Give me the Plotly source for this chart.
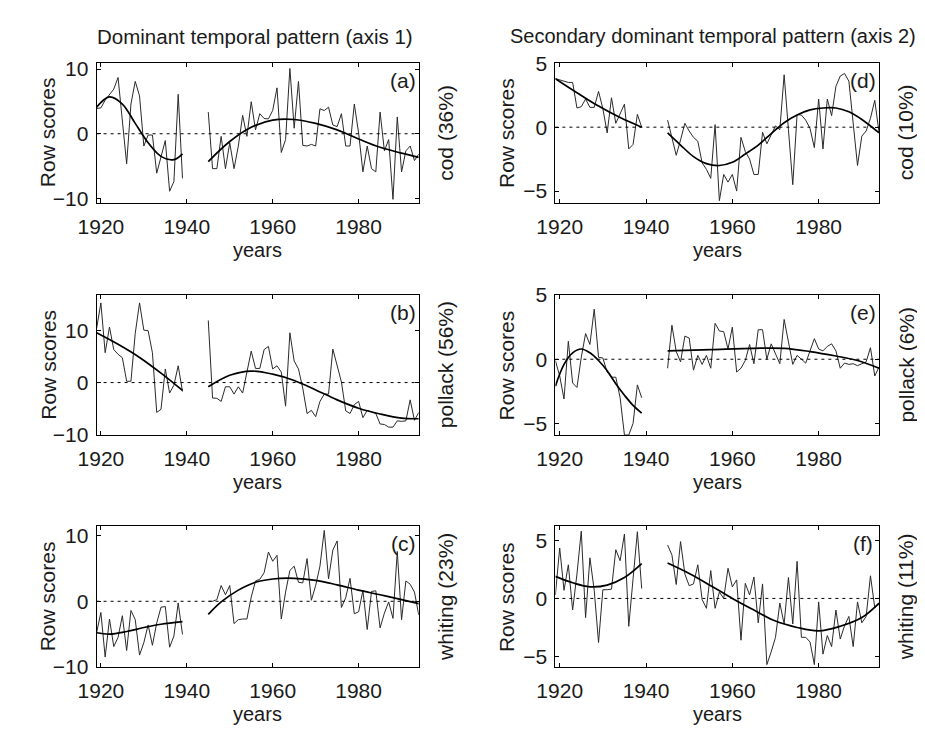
import plotly.graph_objects as go
from plotly.subplots import make_subplots

# ---------------- data ----------------
years_pre = list(range(1919, 1940))    # 1919..1939
years_post = list(range(1945, 1995))   # 1945..1994
x_ticks = [1920, 1940, 1960, 1980]

# axis 1 : cod (a)
cod1_pre = [3.9, 4.0, 5.2, 6.0, 6.9, 8.7, 2.0, -4.65, 4.6, 8.1, 5.85, -1.9, -0.2, -0.2,
            -6.1, -3.6, -1.05, -8.9, -7.4, 6.1, -6.9]
cod1_post = [3.35, -5.4, -5.4, -0.4, -5.4, -1.4, -5.4, -1.9, 2.85, -0.4,
             4.95, 0.6, 3.1, 2.35, 2.3, 3.6, 7.1, -2.9, -0.9, 10.1,
             0.85, 8.1, -1.8, -1.9, -1.65, -1.9, 3.85, 3.6, 4.1, 1.35,
             1.1, 3.1, -1.9, -1.9, 4.6, 0.1, -5.9, -1.9, -5.4, -5.9,
             3.35, -2.65, -0.9, -10.15, 2.6, -5.9, -2.65, -1.9, -4.15, -3.15]
cod1_fit_pre_x = [1919, 1922, 1925, 1928, 1931, 1934, 1937, 1939]
cod1_fit_pre_y = [4.1, 5.7, 4.6, 1.6, -1.4, -3.5, -4.0, -3.1]
cod1_fit_post_x = [1945, 1950, 1955, 1960, 1965, 1970, 1975, 1980, 1985, 1990, 1994]
cod1_fit_post_y = [-4.3, -1.2, 1.0, 2.1, 2.2, 1.6, 0.6, -0.8, -2.1, -3.0, -3.65]

# axis 1 : pollack (b)
pol1_pre = [10.3, 15.2, 5.7, 10.6, 6.3, 5.4, 4.75, 0.25, 0.25, 9.4, 15.2, 10.0, 9.9, 5.7,
            -5.7, -5.1, 2.6, -2.0, -0.5, 3.2, -1.7]
pol1_post = [11.85, -2.95, -3.0, -3.6, -0.8, -0.8, -2.2, -0.8, -2.0, 2.0,
             6.0, 2.7, 2.7, 6.3, 6.9, 2.6, 3.2, 2.0, -4.5, 9.5,
             4.1, 2.6, -1.1, -5.9, -5.3, -6.5, -3.6, -2.2, -2.2, 6.4,
             3.2, 0.1, -5.4, -5.9, -4.2, -3.6, -6.7, -5.3, -5.6, -5.9,
             -7.9, -8.0, -8.5, -8.5, -7.3, -7.4, -7.3, -3.3, -7.2, -5.7]
pol1_fit_pre_x = [1919, 1924, 1929, 1934, 1939]
pol1_fit_pre_y = [9.5, 7.3, 4.8, 1.8, -1.5]
pol1_fit_post_x = [1945, 1950, 1955, 1960, 1965, 1970, 1975, 1980, 1985, 1990, 1994]
pol1_fit_post_y = [-0.8, 1.4, 2.2, 1.6, 0.4, -1.4, -3.3, -4.9, -6.0, -6.8, -6.9]

# axis 1 : whiting (c)
whi1_pre = [-4.8, -1.7, -8.5, -2.7, -6.9, -5.5, -2.2, -7.5, -1.4, -2.8, -8.2, -6.3, -3.6,
            -6.7, -3.3, -0.9, -0.8, -7.0, -5.3, -0.25, -5.05]
whi1_post = [0.0, 0.0, 0.25, 2.4, 1.0, 2.4, -3.4, -2.8, -2.7, -2.7,
             0.65, 3.1, 3.35, 4.35, 7.5, 6.1, 7.0, -2.7, 1.4, 4.7,
             5.35, 2.9, 2.8, 6.5, 0.15, 2.4, 5.35, 10.8, 3.4, 7.8,
             9.2, -0.95, 0.55, 3.5, -1.9, -1.6, 1.65, -4.3, 1.5, 1.6,
             -4.05, -1.8, -0.1, -2.6, 7.6, -2.8, 3.1, 2.6, 1.4, -2.1]
whi1_fit_pre_x = [1919, 1922, 1926, 1930, 1934, 1939]
whi1_fit_pre_y = [-4.8, -5.0, -4.6, -4.0, -3.5, -3.1]
whi1_fit_post_x = [1945, 1948, 1952, 1956, 1960, 1965, 1970, 1975, 1980, 1985, 1990, 1994]
whi1_fit_post_y = [-2.0, -0.1, 1.7, 2.9, 3.4, 3.5, 3.2, 2.5, 1.7, 1.0, 0.25, -0.35]

# axis 2 : cod (d)
cod2_pre = [3.8, 3.7, 3.6, 3.5, 3.5, 1.5, 1.6, 2.2, 1.55, 1.55, 2.8, 1.45, -0.45, 2.3,
            0.3, 1.05, 1.8, -1.7, -1.35, 1.0, 0.0]
cod2_post = [0.55, -0.9, -2.2, -1.0, 0.3, -0.3, -0.8, -1.1, -2.8, -3.3,
             -4.0, 0.2, -5.75, -3.7, -4.3, -3.7, -5.0, -0.8, -1.9, -2.5,
             -3.7, -3.7, -0.4, -1.3, -0.6, 0.1, -0.2, 4.1, -0.2, -4.5,
             1.0, 0.95, 0.55, -0.1, -1.6, 2.2, -1.7, 2.2, 0.9, 3.2,
             4.0, 4.2, 3.6, 0.3, -3.0, -0.7, -0.3, 0.7, 2.1, -0.45]
cod2_fit_pre_x = [1919, 1924, 1929, 1934, 1939]
cod2_fit_pre_y = [3.8, 2.7, 1.65, 0.75, 0.0]
cod2_fit_post_x = [1945, 1948, 1951, 1954, 1957, 1960, 1963, 1966, 1969, 1972, 1975,
                   1978, 1981, 1984, 1987, 1990, 1994]
cod2_fit_post_y = [-0.45, -1.4, -2.3, -2.85, -3.0, -2.75, -2.1, -1.4, -0.5, 0.35, 0.95,
                   1.35, 1.5, 1.5, 1.2, 0.6, -0.45]

# axis 2 : pollack (e)
pol2_pre = [-0.1, -1.3, -3.1, 1.4, -1.85, -2.2, 0.15, 2.0, 1.15, 3.9, 0.15, 0.1, -1.0,
            -1.4, -1.4, -3.0, -5.9, -5.9, -5.0, -2.0, -3.0]
pol2_post = [-0.7, 2.65, 0.6, -0.2, 1.8, 1.65, -0.85, 0.3, -0.4, 0.3,
             -0.7, 2.8, 2.2, 2.15, 0.8, 2.5, -1.0, -0.7, -0.1, 1.15,
             -0.35, 2.3, 2.3, 0.0, 1.2, 0.4, -0.35, 3.1, 1.4, -0.4,
             0.3, 0.0, -0.3, 0.65, 1.6, 0.8, 0.65, 1.0, 1.2, 0.65,
             -0.7, -0.3, -0.4, -0.35, -0.5, -0.35, -0.2, 0.9, -1.3, -0.6]
pol2_fit_pre_x = [1919, 1921, 1923, 1925, 1927, 1929, 1931, 1933, 1935, 1937, 1939]
pol2_fit_pre_y = [-2.1, -0.4, 0.5, 0.8, 0.5, -0.1, -0.9, -1.9, -2.8, -3.6, -4.2]
pol2_fit_post_x = [1945, 1955, 1965, 1972, 1978, 1984, 1989, 1994]
pol2_fit_post_y = [0.65, 0.75, 0.85, 0.85, 0.6, 0.25, -0.1, -0.7]

# axis 2 : whiting (f)
whi2_pre = [0.3, 4.35, 0.7, 2.9, -1.0, 2.1, 5.8, -1.65, 3.5, 0.7, -3.8, 0.75, 0.75, 0.8,
            4.2, 3.25, 5.55, -2.4, 1.7, 5.75, 0.85]
whi2_post = [4.6, 3.75, 1.2, 4.9, 2.1, 1.1, 1.25, 2.9, -0.1, -0.85,
             2.4, -0.85, 0.55, 0.0, 2.6, 1.0, 1.6, -3.6, 1.3, 0.3,
             1.85, -2.1, 1.25, -5.7, -4.6, -3.35, -0.4, -2.2, 1.8, -2.2,
             3.2, -3.35, -3.35, -3.75, -5.7, -0.3, -4.8, -3.2, -4.15, -1.0,
             -3.5, -2.35, -1.55, -4.15, -0.3, -2.1, -1.55, 1.95, -0.8, -0.5]
whi2_fit_pre_x = [1919, 1923, 1927, 1931, 1935, 1939]
whi2_fit_pre_y = [1.9, 1.35, 1.0, 1.15, 1.8, 3.0]
whi2_fit_post_x = [1945, 1950, 1955, 1960, 1965, 1970, 1975, 1980, 1985, 1990, 1994]
whi2_fit_post_y = [3.05, 2.15, 1.1, 0.0, -1.0, -1.95, -2.5, -2.8, -2.4, -1.65, -0.4]

# ---------------- figure ----------------
FONT = "Liberation Sans, Arial, Helvetica, sans-serif"
FS = 21
INK = "#1a1a1a"

col_dom = [[0.0768, 0.4324], [0.5832, 0.9405]]
row_dom = [[0.7414, 0.9396], [0.4122, 0.6104], [0.0837, 0.2826]]

panels = [
    dict(row=1, col=1, tag="(a)", side="cod (36%)", pre=cod1_pre, post=cod1_post,
         f1=(cod1_fit_pre_x, cod1_fit_pre_y), f2=(cod1_fit_post_x, cod1_fit_post_y),
         yr=[-10.65, 11.0], yt=[-10, 0, 10]),
    dict(row=2, col=1, tag="(b)", side="pollack (56%)", pre=pol1_pre, post=pol1_post,
         f1=(pol1_fit_pre_x, pol1_fit_pre_y), f2=(pol1_fit_post_x, pol1_fit_post_y),
         yr=[-10.0, 16.7], yt=[-10, 0, 10]),
    dict(row=3, col=1, tag="(c)", side="whiting (23%)", pre=whi1_pre, post=whi1_post,
         f1=(whi1_fit_pre_x, whi1_fit_pre_y), f2=(whi1_fit_post_x, whi1_fit_post_y),
         yr=[-10.0, 11.4], yt=[-10, 0, 10]),
    dict(row=1, col=2, tag="(d)", side="cod (10%)", pre=cod2_pre, post=cod2_post,
         f1=(cod2_fit_pre_x, cod2_fit_pre_y), f2=(cod2_fit_post_x, cod2_fit_post_y),
         yr=[-5.9, 5.05], yt=[-5, 0, 5]),
    dict(row=2, col=2, tag="(e)", side="pollack (6%)", pre=pol2_pre, post=pol2_post,
         f1=(pol2_fit_pre_x, pol2_fit_pre_y), f2=(pol2_fit_post_x, pol2_fit_post_y),
         yr=[-5.9, 5.0], yt=[-5, 0, 5]),
    dict(row=3, col=2, tag="(f)", side="whiting (11%)", pre=whi2_pre, post=whi2_post,
         f1=(whi2_fit_pre_x, whi2_fit_pre_y), f2=(whi2_fit_post_x, whi2_fit_post_y),
         yr=[-5.9, 6.2], yt=[-5, 0, 5]),
]

fig = make_subplots(rows=3, cols=2)
W, H = 925, 729

annotations = []
for p in panels:
    r, c = p["row"], p["col"]
    raw = dict(mode="lines", line=dict(color="#2a2a2a", width=1), showlegend=False,
               hoverinfo="skip")
    fit = dict(mode="lines", line=dict(color="#000000", width=1.7, shape="spline",
                                       smoothing=1.0), showlegend=False, hoverinfo="skip")
    fig.add_trace(go.Scatter(x=years_pre, y=p["pre"], **raw), row=r, col=c)
    fig.add_trace(go.Scatter(x=years_post, y=p["post"], **raw), row=r, col=c)
    fig.add_trace(go.Scatter(x=p["f1"][0], y=p["f1"][1], **fit), row=r, col=c)
    fig.add_trace(go.Scatter(x=p["f2"][0], y=p["f2"][1], **fit), row=r, col=c)
    fig.add_hline(y=0, line=dict(color="#000000", width=1, dash="3px,4px"), row=r, col=c)

    xd = col_dom[c - 1]
    yd = row_dom[r - 1]
    fig.update_xaxes(domain=xd, range=[1919, 1994], tickvals=x_ticks,
                     ticks="inside", ticklen=4, tickcolor="black", showline=True,
                     linecolor="black", linewidth=1, mirror="ticks", showgrid=False,
                     zeroline=False, ticklabelstandoff=5,
                     tickfont=dict(family=FONT, size=FS, color=INK), row=r, col=c)
    fig.update_yaxes(domain=yd, range=p["yr"], tickvals=p["yt"],
                     ticks="inside", ticklen=4, tickcolor="black", showline=True,
                     linecolor="black", linewidth=1, mirror="ticks", showgrid=False,
                     zeroline=False, ticklabelstandoff=3,
                     tickfont=dict(family=FONT, size=FS, color=INK), row=r, col=c)

    x_left_px = xd[0] * W
    x_right_px = xd[1] * W
    top_px = (1 - yd[1]) * H
    bot_px = (1 - yd[0]) * H
    ymid = (yd[0] + yd[1]) / 2
    # panel tag
    annotations.append(dict(text=p["tag"], xref="paper", yref="paper",
                            x=(x_right_px - 16) / W, y=1 - (top_px + 18) / H,
                            xanchor="center", yanchor="middle", showarrow=False,
                            font=dict(family=FONT, size=FS, color=INK)))
    # right-side species label
    annotations.append(dict(text=p["side"], xref="paper", yref="paper",
                            x=(x_right_px + 27) / W, y=ymid, textangle=-90,
                            xanchor="center", yanchor="middle", showarrow=False,
                            font=dict(family=FONT, size=FS, color=INK)))
    # left y title
    annotations.append(dict(text="Row scores", xref="paper", yref="paper",
                            x=(x_left_px - 50) / W, y=ymid, textangle=-90,
                            xanchor="center", yanchor="middle", showarrow=False,
                            font=dict(family=FONT, size=FS, color=INK)))
    # x title
    annotations.append(dict(text="years", xref="paper", yref="paper",
                            x=(xd[0] + xd[1]) / 2, y=1 - (bot_px + 48.5) / H,
                            xanchor="center", yanchor="middle", showarrow=False,
                            font=dict(family=FONT, size=20, color=INK)))

annotations.append(dict(text="Dominant temporal pattern (axis 1)", xref="paper",
                        yref="paper", x=233 / W, y=1 - 17 / H, xanchor="center",
                        yanchor="middle", showarrow=False,
                        font=dict(family=FONT, size=20.5, color=INK)))
annotations.append(dict(text="Secondary dominant temporal pattern (axis 2)", xref="paper",
                        yref="paper", x=700 / W, y=1 - 17 / H, xanchor="center",
                        yanchor="middle", showarrow=False,
                        font=dict(family=FONT, size=20, color=INK)))

fig.update_layout(width=W, height=H, margin=dict(l=0, r=0, t=0, b=0),
                  paper_bgcolor="white", plot_bgcolor="white",
                  annotations=list(fig.layout.annotations) + annotations,
                  font=dict(family=FONT, size=FS, color=INK))

fig.write_html("out.html")
